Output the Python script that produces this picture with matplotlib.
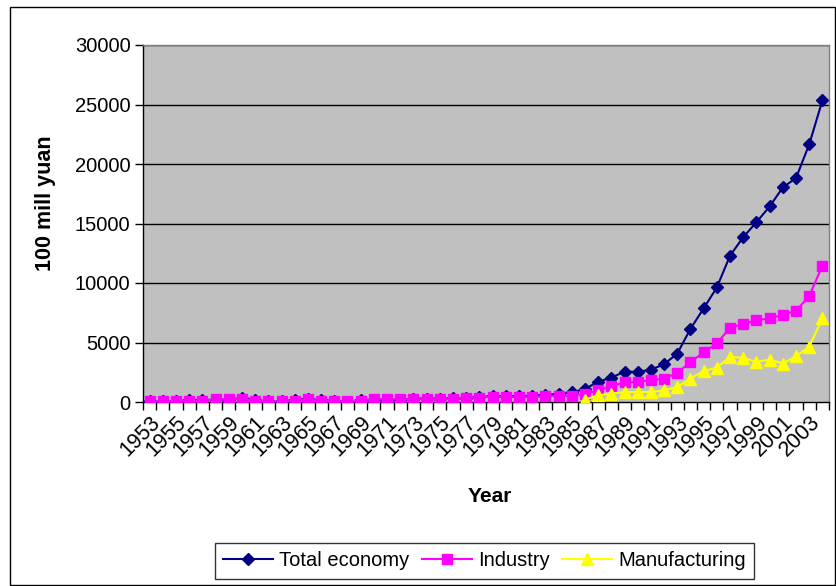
import matplotlib
matplotlib.use('Agg')
import matplotlib.pyplot as plt
from matplotlib.patches import Rectangle
import numpy as np

years = list(range(1953, 2005))
total_economy = [60, 50, 50, 160, 160, 200, 200, 330, 150, 50, 50, 160, 260,
                 130, 110, 40, 150, 210, 210, 210, 290, 290, 290, 300, 330, 420,
                 480, 500, 500, 520, 620, 650, 800,
                 1100, 1700, 2050, 2550, 2530, 2720, 3170, 4070, 6150, 7870,
                 9630, 12300, 13850, 15110, 16430, 18030, 18820, 21650, 25340]
industry = [80, 80, 70, 110, 110, 230, 230, 280, 100, 70, 70, 110, 230,
            100, 80, 60, 120, 230, 230, 230, 240, 240, 240, 260, 360, 370,
            440, 450, 450, 460, 480, 540, 500,
            700, 980, 1320, 1660, 1690, 1830, 1970, 2440, 3370, 4160,
            4920, 6260, 6550, 6880, 7020, 7330, 7670, 8900, 11460]
manuf_years = list(range(1986, 2005))
manufacturing = [200, 560, 700, 840, 840, 840, 980, 1260, 1970, 2610, 2890,
                 3790, 3710, 3370, 3570, 3230, 3850, 4640, 7020]
y_ticks = [0, 5000, 10000, 15000, 20000, 25000, 30000]

plt.rcParams['font.family'] = ['Liberation Sans', 'DejaVu Sans']

W, H = 836, 586
fig = plt.figure(figsize=(W / 100, H / 100), dpi=100)
fig.patch.set_facecolor('white')

# outer chart border
fig.patches.append(Rectangle((10 / W, 1 - 585 / H), (835 - 10) / W, (585 - 7) / H,
                             transform=fig.transFigure, fill=False,
                             edgecolor='black', linewidth=1.0))

ax = fig.add_axes([143 / W, 1 - 402 / H, (829 - 143) / W, (402 - 45) / H])
ax.set_facecolor('#C0C0C0')

x = np.arange(len(years))
xm = np.array([years.index(y) for y in manuf_years])

ax.plot(x, total_economy, color='#000080', lw=1.5, marker='D', ms=6.5,
        mfc='#000080', mec='#000080', label='Total economy', zorder=3)
ax.plot(x, industry, color='#FF00FF', lw=1.5, marker='s', ms=7.5,
        mfc='#FF00FF', mec='#FF00FF', label='Industry', zorder=4)
ax.plot(xm, manufacturing, color='#FFFF00', lw=1.5, marker='^', ms=9,
        mfc='#FFFF00', mec='#FFFF00', label='Manufacturing', zorder=5)

ax.set_xlim(-0.5, len(years) - 0.5)
ax.set_ylim(0, 30000)
ax.set_yticks(y_ticks)
ax.set_yticklabels([str(v) for v in y_ticks], fontsize=14.5)
for v in y_ticks[1:]:
    ax.axhline(v, color='black', lw=1.0, zorder=1)

ax.set_xticks(x[::2])
ax.set_xticklabels([str(y) for y in years[::2]], rotation=45, ha='right',
                   va='top', rotation_mode='anchor', fontsize=15.5)
ax.set_xticks(np.arange(-0.5, len(years), 1.0), minor=True)
ax.tick_params(axis='x', which='major', length=0, pad=7)
ax.tick_params(axis='x', which='minor', length=6, width=1, color='black',
               direction='out')
ax.tick_params(axis='y', which='major', length=6, width=1, color='black',
               direction='out', pad=3)

for s in ['left', 'bottom']:
    ax.spines[s].set_color('black')
    ax.spines[s].set_linewidth(1.0)
for s in ['top', 'right']:
    ax.spines[s].set_color('#808080')
    ax.spines[s].set_linewidth(1.0)

fig.text(45 / W, 1 - 203 / H, '100 mill yuan', rotation=90, ha='center',
         va='center', fontsize=15.5, fontweight='bold')
fig.text(490 / W, 1 - 497 / H, 'Year', ha='center', va='center',
         fontsize=15, fontweight='bold')

leg = ax.legend(loc='center', bbox_to_anchor=(484.5 / W, 1 - 561 / H),
                bbox_transform=fig.transFigure, ncol=3, fontsize=14.5,
                frameon=True, fancybox=False, edgecolor='black',
                handlelength=2.5, handletextpad=0.3, columnspacing=0.6,
                borderpad=0.4)
leg.get_frame().set_linewidth(1.0)

fig.savefig('out.png', dpi=100, facecolor='white')
